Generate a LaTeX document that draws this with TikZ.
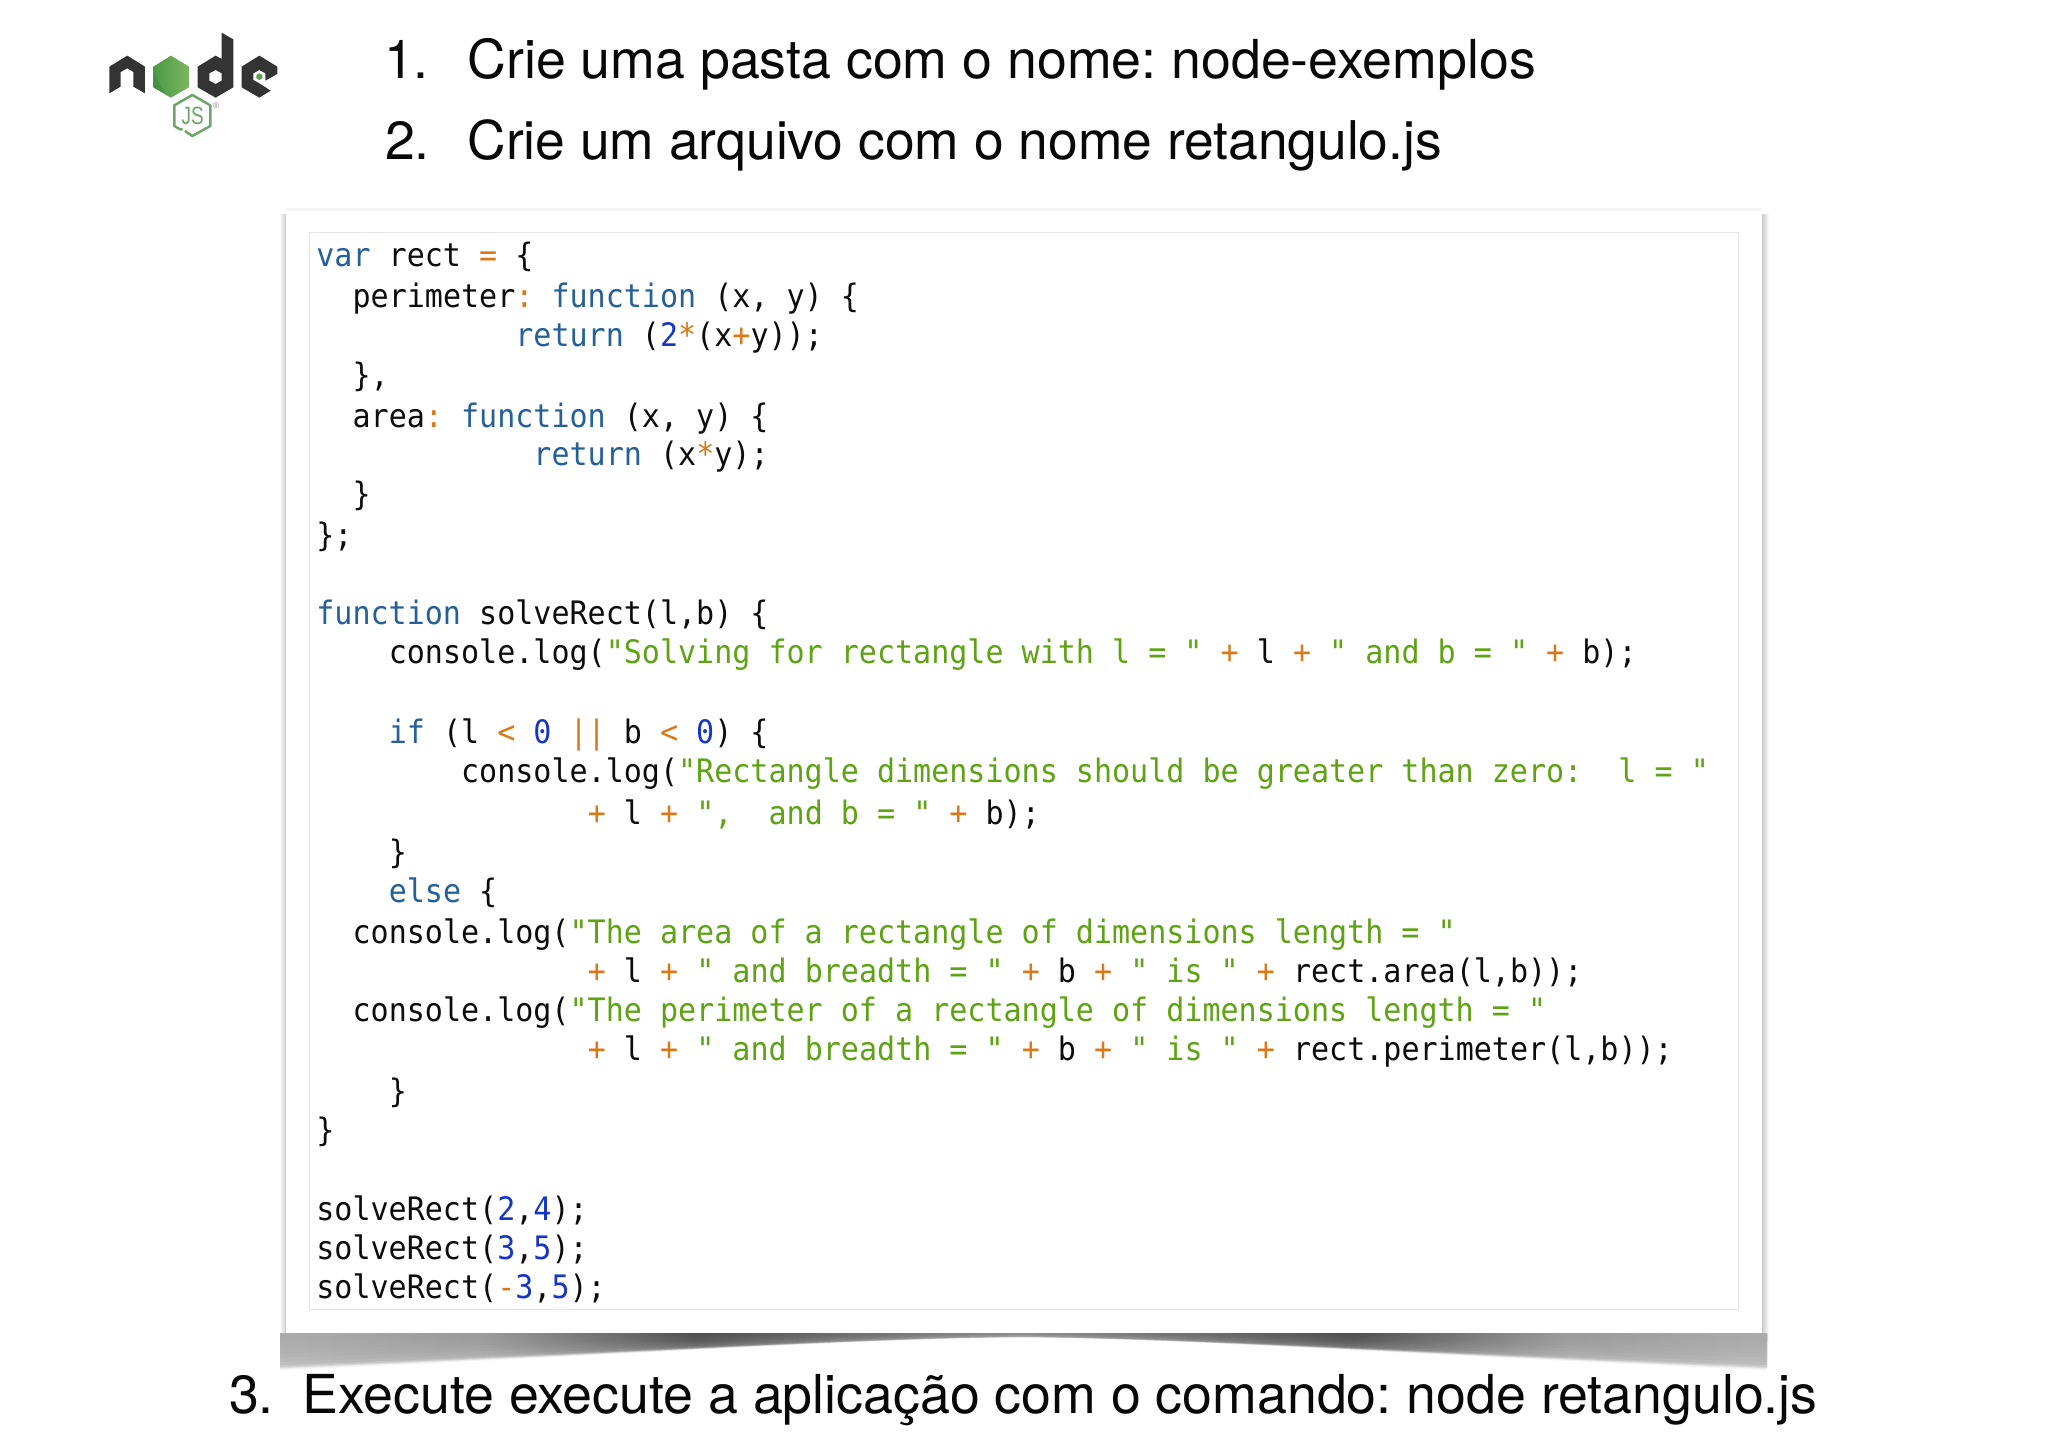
\documentclass[tikz,border=0pt]{standalone}
\usepackage{fontspec}
\setmainfont{TeX Gyre Heros}
\newfontfamily\codefont[FakeStretch=0.93]{DejaVu Sans Mono}
\newfontfamily\jsfont[FakeStretch=0.76]{Liberation Sans}
\newfontfamily\regfont{Liberation Sans}
\definecolor{kwc}{HTML}{25609A}
\definecolor{stc}{HTML}{5FA315}
\definecolor{opc}{HTML}{D9791A}
\definecolor{nmc}{HTML}{1535C4}
\definecolor{txc}{HTML}{0C0C0C}
\definecolor{nodedark}{HTML}{333333}
\definecolor{nodegreen}{HTML}{5FA04E}
\definecolor{greenleft}{HTML}{4A9A45}
\definecolor{greenright}{HTML}{7DB560}
\definecolor{greenfacet}{HTML}{3F8A45}
\definecolor{jsgreen}{HTML}{6FA56C}
\newcommand{\kw}[1]{\textcolor{kwc}{#1}}
\newcommand{\st}[1]{\textcolor{stc}{#1}}
\newcommand{\op}[1]{\textcolor{opc}{#1}}
\newcommand{\nm}[1]{\textcolor{nmc}{#1}}
\pgfdeclarehorizontalshading{shadowbar}{100bp}{
 color(0bp)=(black!33); color(25bp)=(black!33); color(32bp)=(black!40); color(39bp)=(black!70);
 color(50bp)=(black!45); color(61bp)=(black!70); color(68bp)=(black!40); color(75bp)=(black!33); color(100bp)=(black!33)}
\tikzset{
 code/.style={anchor=base west,inner sep=0pt,outer sep=0pt,text=txc,font=\codefont\fontsize{32.3}{36}\selectfont\frenchspacing},
 head/.style={anchor=base west,inner sep=0pt,outer sep=0pt,text=black!97,font=\fontsize{53.7}{60}\selectfont\frenchspacing},
 headb/.style={head,font=\fontsize{53.4}{60}\selectfont\frenchspacing},
 darkpart/.style={fill=nodedark,draw=none},
}
\newcommand{\cl}[4]{\node[code] (#1) at ({316.4+18.09*#3},#2) {#4};}
\begin{document}
\begin{tikzpicture}[x=1pt,y=-1pt]
\useasboundingbox (0,0) rectangle (2048,1448);
\fill[white] (0,0) rectangle (2048,1448);

% logo
\begin{scope}[shift={(80,10)},x=0.3333pt,y=-0.3333pt]
 \fill[darkpart] (88,170)--(142,137)--(195,170)--(195,250)--(160,230)--(160,186)--(142,175)--(122,186)--(122,230)--(88,250)--cycle;
 \shade[left color=greenleft,right color=greenright] (273,137)--(327,170)--(327,232)--(273,263)--(220,232)--(220,170)--cycle;
 \fill[greenfacet,opacity=.6] (222,190)--(258,255)--(273,263)--(220,232)--cycle;
 \fill[darkpart,even odd rule] (425,68)--(460,88)--(460,232)--(407,263)--(353,232)--(353,170)--(407,137)--(425,147)--cycle
   (407,180)--(425,190)--(425,212)--(407,222)--(388,212)--(388,190)--cycle;
 \fill[darkpart] (538,137)--(592,170)--(592,192)--(556,212)--(556,190)--(538,180)--(520,190)--(520,210)--(538,220)--(572,242)--(538,263)--(485,232)--(485,170)--cycle;
 \fill[nodegreen] (538,190)--(547,195)--(547,205)--(538,210)--(529,205)--(529,195)--cycle;
 \draw[jsgreen,line width=2.5pt,line join=round] (315,363)--(337,378)--(391,348)--(391,286)--(337,255)--(283,286)--(283,348)--(300,358)--(308,358);
\end{scope}
\node[inner sep=0pt,text=jsgreen,font=\jsfont\fontsize{25}{26}\selectfont] (jslabel) at (192.7,116) {JS};
\node[inner sep=0pt,text=black!45,font=\regfont\fontsize{8}{8}\selectfont] (reg) at (216,106) {®};

% card shadow
\shade[left color=white,right color=black!20] (279,214) rectangle (286,1340);
\shade[left color=black!20,right color=white] (1762,214) rectangle (1769,1340);
\fill[black!4] (286,208) rectangle (1762,211);
\foreach \f/\a in {1.1/.1,1.06/.15,1.03/.25,1/.3,.95/.4,.85/.25,.72/.25,.6/.25,.48/.25,.36/.25,.24/.25,.12/.25}{
 \shade[shading=shadowbar,opacity=\a]
  (280,1333)--({280},{1333+34*\f}) .. controls (620,{1333+20*\f}) and (860,{1333+5*\f}) .. (1021,{1333+4*\f})
  .. controls (1182,{1333+5*\f}) and (1423,{1333+20*\f}) .. ({1767},{1333+34*\f})--(1767,1333)--cycle;
}
% card
\fill[white] (286,211) rectangle (1762,1333);
\draw[black!10,line width=1pt] (309.5,232) rectangle (1738,1309);

% headings
\node[head] (n1) at (384,78.5) {1.};
\node[head] (t1) at (467.5,78.5) {Crie uma pasta com o nome: node-exemplos};
\node[head] (n2) at (385,159) {2.};
\node[headb] (t2) at (467.5,159) {Crie um arquivo com o nome retangulo.js};
\node[head] (n3) at (229,1413) {3.};
\node[head] (t3) at (302.5,1413) {Execute execute a aplicação com o comando: node retangulo.js};

% code
\cl{c1}{266}{0}{\kw{var}~rect~\op{=}~\{}
\cl{c2}{307}{2}{perimeter\op{:}~\kw{function}~(x,~y)~\{}
\cl{c3}{346}{11}{\kw{return}~(\nm{2}\op{*}(x\op{+}y));}
\cl{c4}{386}{2}{\},}
\cl{c5}{427}{2}{area\op{:}~\kw{function}~(x,~y)~\{}
\cl{c6}{465}{12}{\kw{return}~(x\op{*}y);}
\cl{c7}{505}{2}{\}}
\cl{c8}{546}{0}{\};}
\cl{c9}{624}{0}{\kw{function}~solveRect(l,b)~\{}
\cl{c10}{663}{4}{console.log(\st{"Solving~for~rectangle~with~l~=~"}~\op{+}~l~\op{+}~\st{"~and~b~=~"}~\op{+}~b);}
\cl{c11}{743}{4}{\kw{if}~(l~\op{<}~\nm{0}~\op{||}~b~\op{<}~\nm{0})~\{}
\cl{c12}{782}{8}{console.log(\st{"Rectangle~dimensions~should~be~greater~than~zero:~~l~=~"}}
\cl{c13}{824.5}{15}{\op{+}~l~\op{+}~\st{",~~and~b~=~"}~\op{+}~b);}
\cl{c14}{863}{4}{\}}
\cl{c15}{902.5}{4}{\kw{else}~\{}
\cl{c16}{943.5}{2}{console.log(\st{"The~area~of~a~rectangle~of~dimensions~length~=~"}}
\cl{c17}{982.5}{15}{\op{+}~l~\op{+}~\st{"~and~breadth~=~"}~\op{+}~b~\op{+}~\st{"~is~"}~\op{+}~rect.area(l,b));}
\cl{c18}{1021.5}{2}{console.log(\st{"The~perimeter~of~a~rectangle~of~dimensions~length~=~"}}
\cl{c19}{1060.5}{15}{\op{+}~l~\op{+}~\st{"~and~breadth~=~"}~\op{+}~b~\op{+}~\st{"~is~"}~\op{+}~rect.perimeter(l,b));}
\cl{c20}{1102.5}{4}{\}}
\cl{c21}{1141.5}{0}{\}}
\cl{c22}{1220.5}{0}{solveRect(\nm{2},\nm{4});}
\cl{c23}{1259.5}{0}{solveRect(\nm{3},\nm{5});}
\cl{c24}{1298}{0}{solveRect(\op{-}\nm{3},\nm{5});}
\end{tikzpicture}
\end{document}
